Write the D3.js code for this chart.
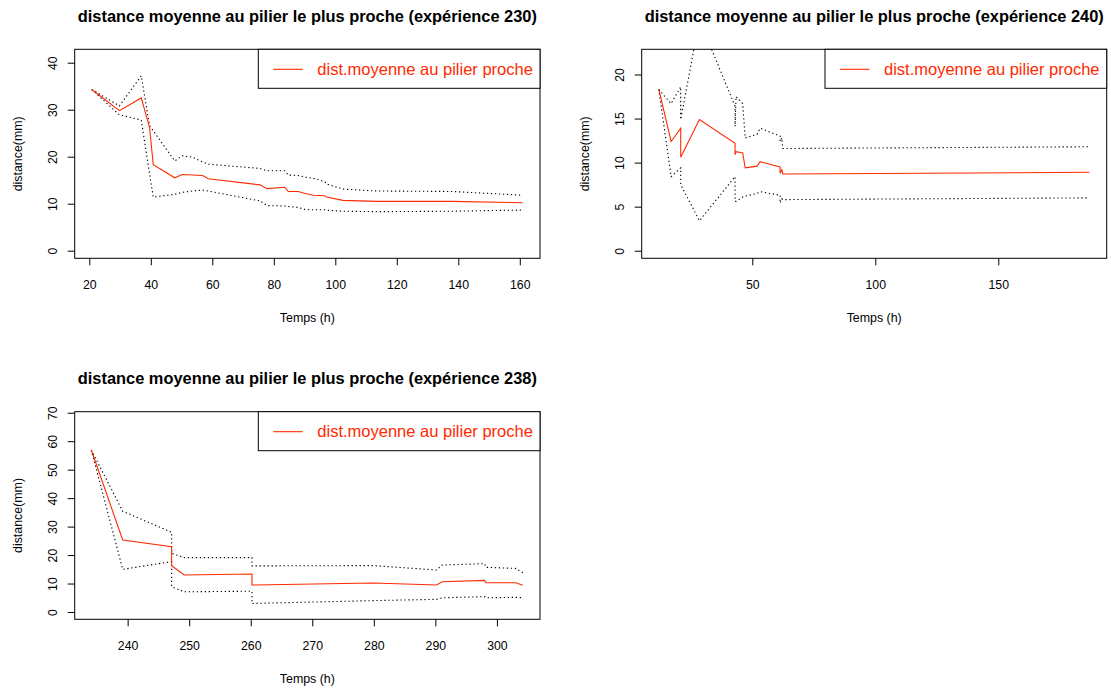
<!DOCTYPE html>
<html><head><meta charset="utf-8">
<script src="https://cdn.jsdelivr.net/npm/d3@7"></script>
<style>body{margin:0;background:#fff}svg{display:block}text{font-family:"Liberation Sans",Arial,sans-serif}</style>
</head><body>
<svg id="c" width="1111" height="691"></svg>
<script>
// ---- Panel 1 : expérience 230 ----
const titles = [
  "distance moyenne au pilier le plus proche (expérience 230)",
  "distance moyenne au pilier le plus proche (expérience 240)",
  "distance moyenne au pilier le plus proche (expérience 238)"
];
const legendLabel = "dist.moyenne au pilier proche";
const xLabel = "Temps (h)";
const yLabel = "distance(mm)";

const t230 =     [20.8, 29.8, 36.9, 39.6, 40.8, 47.8, 50.2, 53.5, 56.8, 58.7, 75.5, 77.8, 83.6, 84.7, 87.9, 90.6, 92.8, 96.6, 97.1, 102.5, 113.4, 138.0, 160.9];
const mean230 =  [34.3, 29.8, 32.5, 26.2, 18.3, 15.5, 16.2, 16.1, 16.0, 15.3, 14.0, 13.2, 13.5, 12.6, 12.6, 12.1, 11.8, 11.7, 11.4, 10.7, 10.5, 10.5, 10.2];
const upper230 = [34.3, 30.8, 37.2, 26.6, 25.5, 19.1, 20.2, 19.9, 18.9, 18.4, 17.5, 17.0, 17.0, 16.1, 16.0, 15.6, 15.4, 14.7, 14.2, 13.1, 12.7, 12.6, 11.8];
const lower230 = [34.3, 28.9, 27.8, 16.3, 11.4, 12.0, 12.4, 12.7, 12.9, 12.7, 10.6, 9.6, 9.5, 9.4, 9.2, 8.7, 8.7, 8.7, 8.6, 8.4, 8.3, 8.4, 8.65];
const xTicks230 = [20, 40, 60, 80, 100, 120, 140, 160];
const yTicks230 = [0, 10, 20, 30, 40];

// ---- Panel 2 : expérience 240 ----
const t240 =     [12.0, 17.0, 20.9, 20.9, 28.5, 43.0, 43.0, 43.4, 46.1, 47.1, 51.9, 53.2, 61.3, 61.3, 62.0, 62.4, 187.0];
const mean240 =  [18.3, 12.4, 13.9, 10.6, 14.9, 12.2, 10.9, 11.25, 11.1, 9.4, 9.6, 10.1, 9.5, 8.8, 9.2, 8.7, 8.9];
const upper240 = [18.3, 16.7, 18.6, 14.9, 26.2, 16.4, 14.1, 17.5, 16.7, 12.8, 13.2, 13.9, 13.0, 12.4, 12.8, 11.6, 11.8];
const lower240 = [18.3, 8.4, 9.4, 7.5, 3.4, 8.4, 5.6, 5.6, 6.1, 6.2, 6.5, 6.7, 6.3, 5.4, 5.9, 5.8, 6.0];
const xTicks240 = [50, 100, 150];
const yTicks240 = [0, 5, 10, 15, 20];

// ---- Panel 3 : expérience 238 ----
const t238 =     [234.1, 239.2, 247.15, 247.15, 249.2, 260.2, 260.2, 279.9, 290.2, 291.1, 298.0, 298.2, 303.1, 304.2];
const mean238 =  [56.9, 25.3, 22.95, 16.3, 13.0, 13.35, 9.5, 10.2, 9.5, 10.65, 11.1, 10.3, 10.3, 9.4];
const upper238 = [56.9, 35.4, 28.0, 20.6, 19.1, 19.1, 16.2, 16.3, 14.75, 16.5, 17.0, 15.7, 15.3, 13.8];
const lower238 = [56.9, 15.0, 17.7, 8.9, 7.1, 7.3, 3.0, 4.0, 4.45, 5.0, 5.4, 5.0, 5.15, 5.0];
const xTicks238 = [240, 250, 260, 270, 280, 290, 300];
const yTicks238 = [0, 10, 20, 30, 40, 50, 60, 70];

const RED = "#ff2a00";
const svg = d3.select("#c");

const panels = [
  {title: titles[0], t: t230, mean: mean230, up: upper230, lo: lower230, xt: xTicks230, yt: yTicks230,
   box: {l: 74.7, t: 49.3, r: 540, b: 258.3}, xd: [15.25, 166.57], yd: [-1.62, 42.85]},
  {title: titles[1], t: t240, mean: mean240, up: upper240, lo: lower240, xt: xTicks240, yt: yTicks240,
   box: {l: 641.7, t: 49.3, r: 1106.7, b: 258.3}, xd: [5.04, 194.07], yd: [-0.86, 22.86]},
  {title: titles[2], t: t238, mean: mean238, up: upper238, lo: lower238, xt: xTicks238, yt: yTicks238,
   box: {l: 74.7, t: 411.7, r: 540, b: 619.3}, xd: [231.4, 307.0], yd: [-2.56, 70.36]}
];

panels.forEach((p, i) => {
  const B = p.box;
  const x = d3.scaleLinear().domain(p.xd).range([B.l, B.r]);
  const y = d3.scaleLinear().domain(p.yd).range([B.b, B.t]);
  const g = svg.append("g");

  const cid = "clip" + i;
  svg.append("clipPath").attr("id", cid).append("rect")
    .attr("x", B.l).attr("y", B.t).attr("width", B.r - B.l).attr("height", B.b - B.t);

  const line = d3.line().x(d => x(d[0])).y(d => y(d[1]));
  const plot = g.append("g").attr("clip-path", `url(#${cid})`);
  [p.up, p.lo].forEach(s => {
    plot.append("path").attr("d", line(p.t.map((tt, k) => [tt, s[k]])))
      .attr("fill", "none").attr("stroke", "#000").attr("stroke-width", 1.1)
      .attr("stroke-dasharray", "1.3,2.7");
  });
  plot.append("path").attr("d", line(p.t.map((tt, k) => [tt, p.mean[k]])))
    .attr("fill", "none").attr("stroke", RED).attr("stroke-width", 1.1);

  // box
  g.append("rect").attr("x", B.l).attr("y", B.t).attr("width", B.r - B.l).attr("height", B.b - B.t)
    .attr("fill", "none").attr("stroke", "#000").attr("stroke-width", 1);

  // x axis
  const xa = g.append("g").attr("transform", `translate(0,${B.b})`)
    .call(d3.axisBottom(x).tickValues(p.xt).tickSize(7).tickPadding(0).tickFormat(d3.format("d")));
  xa.select(".domain").remove();
  xa.selectAll("line").attr("stroke", "#000");
  xa.selectAll("text").attr("y", 30.7).attr("dy", 0).attr("font-size", 12.3).attr("fill", "#000")
    .style("font-family", '"Liberation Sans",Arial,sans-serif');

  // y axis
  const ya = g.append("g").attr("transform", `translate(${B.l},0)`)
    .call(d3.axisLeft(y).tickValues(p.yt).tickSize(7).tickFormat(d3.format("d")));
  ya.select(".domain").remove();
  ya.selectAll("line").attr("stroke", "#000");
  ya.selectAll("text").attr("x", 0).attr("y", -18.2).attr("dy", 0).attr("transform", "rotate(-90)")
    .attr("text-anchor", "middle").attr("font-size", 12.3).attr("fill", "#000")
    .style("font-family", '"Liberation Sans",Arial,sans-serif');

  const cx = (B.l + B.r) / 2;
  // title
  g.append("text").attr("x", cx).attr("y", B.t - 27.7).attr("text-anchor", "middle")
    .attr("font-weight", "bold").attr("font-size", 16.4).text(p.title);
  // x label
  g.append("text").attr("x", cx).attr("y", B.b + 64).attr("text-anchor", "middle")
    .attr("font-size", 12.4).text(xLabel);
  // y label
  g.append("text").attr("transform", `translate(${B.l - 53},${(B.t + B.b) / 2}) rotate(-90)`)
    .attr("text-anchor", "middle").attr("font-size", 12.4).text(yLabel);

  // legend
  const lgL = B.r - 281.7, lgT = B.t, lgH = 39;
  g.append("rect").attr("x", lgL).attr("y", lgT).attr("width", B.r - lgL).attr("height", lgH)
    .attr("fill", "#fff").attr("stroke", "#000").attr("stroke-width", 1);
  g.append("line").attr("x1", lgL + 15).attr("x2", lgL + 44.4)
    .attr("y1", lgT + 20).attr("y2", lgT + 20).attr("stroke", RED).attr("stroke-width", 1.1);
  g.append("text").attr("x", lgL + 59).attr("y", lgT + 25.6).attr("font-size", 16.5)
    .attr("fill", RED).text(legendLabel);
});
</script>
</body></html>
